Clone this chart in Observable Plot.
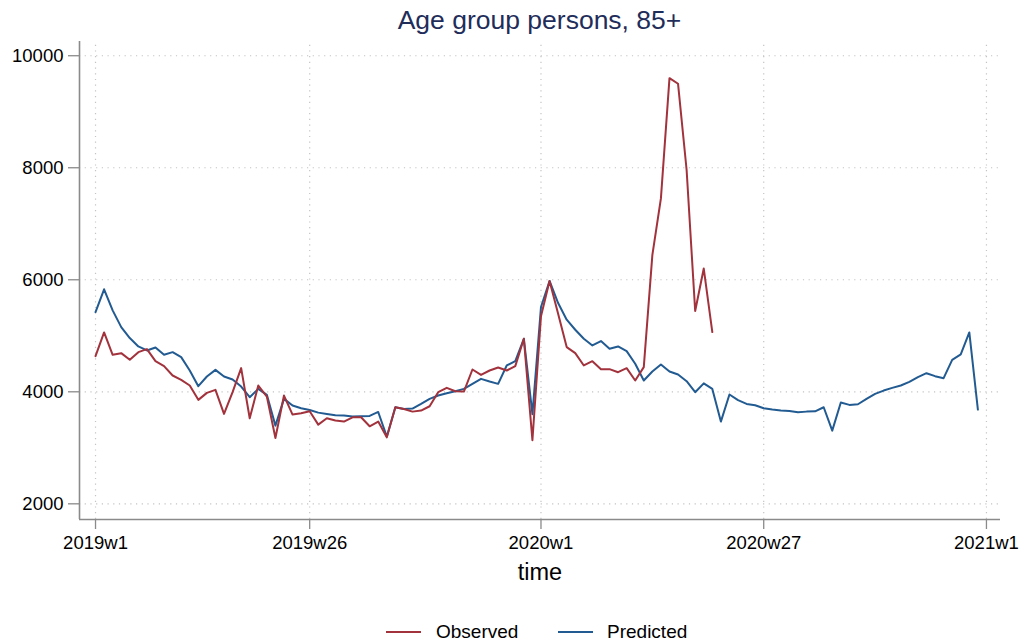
<!DOCTYPE html>
<html>
<head>
<meta charset="utf-8">
<script src="https://cdn.jsdelivr.net/npm/d3@7"></script>
<script src="https://cdn.jsdelivr.net/npm/@observablehq/plot@0.6"></script>
<style>
  html, body { margin: 0; padding: 0; background: #fff; }
  body { width: 1028px; height: 644px; overflow: hidden; font-family: "Liberation Sans", Arial, Helvetica, sans-serif; }
  #title { height: 41px; box-sizing: border-box; padding-top: 5px; line-height: 30px; margin-left: 79px; width: 921px; text-align: center; font-size: 26.5px; color: #1f2d5a; white-space: nowrap; }
  #chart svg { display: block; }
  #legend { position: relative; height: 49px; }
  #legend .sw { position: absolute; height: 2px; width: 35px; top: 36px; }
  #legend .lb { position: absolute; top: 27px; line-height: 20px; font-size: 19px; color: #000; white-space: nowrap; }
</style>
</head>
<body>
<div id="title">Age group persons, 85+</div>
<div id="chart"></div>
<div id="legend">
  <div class="sw" id="sw-obs" style="left:386px"></div>
  <span class="lb" style="left:436px">Observed</span>
  <div class="sw" id="sw-pred" style="left:558px"></div>
  <span class="lb" style="left:607px">Predicted</span>
</div>
<script>
// Weekly series, index 0 = 2019w1 (Stata weekly dates: 52 weeks per year)
const observed = [
  4637, 5060, 4661, 4690, 4571, 4708, 4762, 4547, 4458, 4291,
  4213, 4112, 3856, 3981, 4034, 3605, 3993, 4423, 3527, 4112,
  3915, 3176, 3933, 3593, 3616, 3652, 3414, 3527, 3486, 3468,
  3545, 3545, 3384, 3468, 3187, 3724, 3694, 3646, 3664, 3742,
  3993, 4070, 4010, 4004, 4398, 4302, 4380, 4434, 4380, 4458,
  4947, 3135, 5350, 5979, 5394, 4798, 4690, 4470, 4547, 4404,
  4404, 4350, 4422, 4201, 4440, 6440, 7453, 9600, 9499, 7960,
  5442, 6200, 5066
];
const predicted = [
  5424, 5830, 5454, 5155, 4959, 4810, 4738, 4792, 4661, 4708,
  4619, 4380, 4100, 4273, 4392, 4273, 4219, 4094, 3903, 4052,
  3945, 3396, 3874, 3754, 3706, 3676, 3628, 3605, 3580, 3575,
  3557, 3563, 3569, 3640, 3199, 3724, 3694, 3700, 3784, 3873,
  3933, 3975, 4010, 4052, 4142, 4231, 4183, 4142, 4470, 4547,
  4947, 3600, 5513, 5979, 5585, 5287, 5108, 4947, 4828, 4905,
  4768, 4810, 4726, 4500, 4201, 4362, 4488, 4362, 4309, 4189,
  3993, 4150, 4052, 3468, 3951, 3850, 3784, 3760, 3706, 3682,
  3664, 3658, 3634, 3646, 3652, 3724, 3306, 3808, 3766, 3778,
  3873, 3963, 4022, 4070, 4112, 4177, 4261, 4332, 4279, 4243,
  4571, 4667, 5060, 3682
];
const xTickWeeks = [0, 25, 52, 78, 104];
const xTickLabels = ["2019w1", "2019w26", "2020w1", "2020w27", "2021w1"];
const yTicks = [2000, 4000, 6000, 8000, 10000];
const xTitle = "time";

const RED = "#a2323c";
const BLUE = "#225b91";
const AXIS = "#8a8a8a";
const GRID = "#c4c4c4";
const xDomain = [-1.87, 105.64];
const yDomain = [1720, 10254];

document.getElementById("sw-obs").style.background = RED;
document.getElementById("sw-pred").style.background = BLUE;

const obsData = observed.map((v, i) => ({week: i, value: v}));
const predData = predicted.map((v, i) => ({week: i, value: v}));

const chart = Plot.plot({
  width: 1028,
  height: 554,
  marginTop: 0,
  marginBottom: 76,
  marginLeft: 79,
  marginRight: 28,
  style: {fontFamily: "'Liberation Sans', Arial, Helvetica, sans-serif", background: "white", color: "black"},
  x: {domain: xDomain},
  y: {domain: yDomain},
  marks: [
    Plot.gridY(yTicks, {stroke: GRID, strokeOpacity: 1, strokeWidth: 1.2, strokeDasharray: "1.2,4.5"}),
    Plot.gridX(xTickWeeks, {stroke: GRID, strokeOpacity: 1, strokeWidth: 1.2, strokeDasharray: "1.2,4.5", y1: yDomain[0], y2: 10200}),
    Plot.ruleX([xDomain[0]], {stroke: AXIS, strokeWidth: 1.6}),
    Plot.ruleY([yDomain[0]], {stroke: AXIS, strokeWidth: 1.6}),
    Plot.axisY(yTicks, {tickSize: 11, tickPadding: 5, fontSize: 18.5, stroke: AXIS, fill: "black", strokeWidth: 1.3, label: null, tickFormat: d => String(d)}),
    Plot.axisX(xTickWeeks, {tickSize: 10, tickPadding: 6, fontSize: 18.5, stroke: AXIS, fill: "black", strokeWidth: 1.3, label: null,
      tickFormat: d => xTickLabels[xTickWeeks.indexOf(d)]}),
    Plot.text([xTitle], {frameAnchor: "bottom", dy: 60, fontSize: 23.5, fill: "black"}),
    Plot.lineY(predData, {x: "week", y: "value", stroke: BLUE, strokeWidth: 2}),
    Plot.lineY(obsData, {x: "week", y: "value", stroke: RED, strokeWidth: 2})
  ]
});
document.getElementById("chart").appendChild(chart);
</script>
</body>
</html>
